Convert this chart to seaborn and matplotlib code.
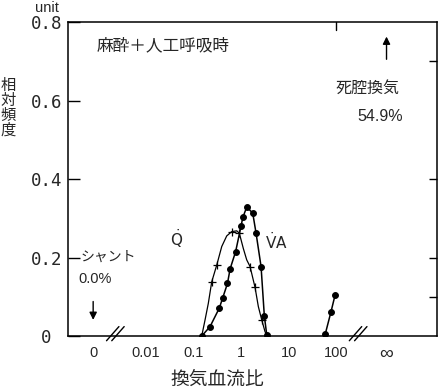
import numpy as np
import matplotlib
matplotlib.use("Agg")
import matplotlib.pyplot as plt
import seaborn as sns

# ---- data ----
q_ratio = [0.15, 0.176, 0.206, 0.243, 0.31, 0.394, 0.501, 0.638, 0.813, 0.921,
           1.117, 1.316, 1.545, 1.966, 2.306, 2.717, 3.185, 3.56]
q_freq = [0.0, 0.041, 0.083, 0.138, 0.181, 0.228, 0.255, 0.266, 0.268, 0.262,
          0.223, 0.194, 0.177, 0.124, 0.075, 0.041, 0.011, 0.0]

va_ratio = [0.15, 0.224, 0.35, 0.41, 0.52, 0.59, 0.77, 1.0, 1.09, 1.32,
            1.76, 2.06, 2.63, 3.08, 3.46]
va_freq = [0.0, 0.024, 0.071, 0.096, 0.134, 0.171, 0.215, 0.28, 0.302, 0.329,
           0.313, 0.263, 0.177, 0.051, 0.003]

va_high_ratio = [53.0, 58.0, 77.0, 93.5]
va_high_freq = [0.0, 0.004, 0.062, 0.104]

x_tick_labels = ["0", "0.01", "0.1", "1", "10", "100", "\u221e"]
y_ticks = [0, 0.2, 0.4, 0.6, 0.8]
y_tick_labels = ["0 ", "0.2", "0.4", "0.6", "0.8"]

shunt_text = "シャント"
shunt_value = "0.0%"
dead_text = "死腔換気"
dead_value = "54.9%"
condition_text = "麻酔＋人工呼吸時"

# axis positions for the "0" and "infinity" columns (outside the log range)
ZERO_POS = 10 ** -3.1
INF_POS = 10 ** 3.05
BREAKS = [10 ** -2.64, 10 ** 2.45]

sns.set_style("white")
plt.rcParams['font.family'] = ['Liberation Sans', 'Noto Sans CJK JP', 'DejaVu Sans']

fig = plt.figure(figsize=(4.38, 3.89), dpi=100)
ax = fig.add_axes([0.1553, 0.1362, 0.8425, 0.8072])
ax.set_xscale('log')

sns.lineplot(x=q_ratio, y=q_freq, ax=ax, color='k', lw=0.9, marker='+',
             markersize=6, mew=0.9, mec='k', markevery=[3, 4, 7, 9, 12, 13, 15],
             sort=False, estimator=None)
sns.lineplot(x=va_ratio, y=va_freq, ax=ax, color='k', lw=1.1, marker='o',
             markersize=4.2, mec='k', mfc='k', sort=False, estimator=None)
sns.lineplot(x=va_high_ratio, y=va_high_freq, ax=ax, color='k', lw=1.1,
             marker='o', markersize=4.2, mec='k', mfc='k',
             markevery=[1, 2, 3], sort=False, estimator=None)

ax.set_xlim(10 ** -3.627, 10 ** 4.109)
ax.set_ylim(0, 0.8)

ax.set_xticks([ZERO_POS, 0.01, 0.1, 1, 10, 100, INF_POS])
ax.set_xticklabels(x_tick_labels, fontsize=10.5)
ax.get_xticklabels()[-1].set_fontsize(14)
ax.minorticks_off()
ax.set_yticks(y_ticks)
ax.set_yticklabels(y_tick_labels, fontsize=12.5, family='DejaVu Sans Mono')
ax.tick_params(axis='x', direction='in', length=5.5, width=1, pad=7, color='k')
ax.tick_params(axis='y', direction='in', length=8.5, width=1, pad=4, color='k')
for sp in ax.spines.values():
    sp.set_color('k')
    sp.set_linewidth(1.1)

# right-hand ticks
ax2 = ax.twinx()
ax2.set_ylim(0, 0.8)
ax2.set_yticks([0.1, 0.2, 0.4, 0.7])
ax2.tick_params(axis='y', direction='in', length=6, width=1, labelright=False, color='k')
ax2.spines[:].set_visible(False)
# top tick at 100
ax.axvline(100, ymin=0.975, ymax=1.0, color='k', lw=1)

# axis breaks
xt = ax.get_xaxis_transform()
for b in BREAKS:
    for off in (-0.05, 0.06):
        c = np.log10(b) + off
        ax.plot([10 ** (c - 0.13), 10 ** (c + 0.13)], [-0.015, 0.03],
                color='k', lw=1, transform=xt, clip_on=False)

# arrows
ax.annotate('', xy=(ZERO_POS, 0.034), xytext=(ZERO_POS, 0.095),
            arrowprops=dict(arrowstyle='-|>', color='k', lw=1, mutation_scale=11))
ax.annotate('', xy=(INF_POS, 0.77), xytext=(INF_POS, 0.698),
            arrowprops=dict(arrowstyle='-|>', color='k', lw=1, mutation_scale=11))

# annotations
ax.text(0.0786, 0.924, condition_text, transform=ax.transAxes, fontsize=12,
        ha='left', va='center')
ax.text(0.726, 0.79, dead_text, transform=ax.transAxes, fontsize=11.5,
        ha='left', va='center')
ax.text(0.783, 0.70, dead_value, transform=ax.transAxes, fontsize=11.5,
        ha='left', va='center')
ax.text(0.033, 0.252, shunt_text, transform=ax.transAxes, fontsize=10,
        ha='left', va='center')
ax.text(0.027, 0.18, shunt_value, transform=ax.transAxes, fontsize=10.5,
        ha='left', va='center')
ax.text(0.293, 0.31, r'$\dot{\mathrm{Q}}$', transform=ax.transAxes, fontsize=11,
        ha='center', va='center')
ax.text(0.534, 0.30, r'$\dot{\mathrm{V}}\mathrm{A}$', transform=ax.transAxes,
        fontsize=11, ha='left', va='center')

fig.text(35 / 438, 1 - 8 / 389, "unit", fontsize=10.5, ha='left', va='center')
fig.text(0.018, 0.722, "相\n対\n頻\n度", fontsize=11, ha='center', va='center',
         linespacing=1.05)
fig.text(0.4966, 0.024, "換気血流比", fontsize=13.5, ha='center', va='center')

fig.savefig("out.png", dpi=100)
